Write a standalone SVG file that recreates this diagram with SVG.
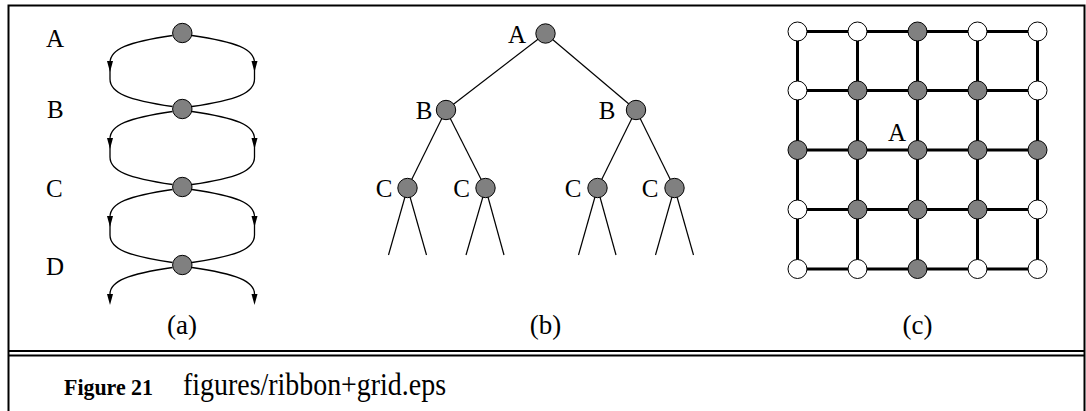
<svg xmlns="http://www.w3.org/2000/svg" width="1086" height="411" viewBox="0 0 1086 411">
<style>
.lbl{font-family:"Liberation Serif","Times New Roman",serif;font-size:25px;fill:#000}
.cap{font-family:"Liberation Serif","Times New Roman",serif;font-size:27px;fill:#000;text-anchor:middle}
.g{fill:#808080;stroke:#000;stroke-width:1}
.w{fill:#fff;stroke:#000;stroke-width:1}
.rib{fill:none;stroke:#000;stroke-width:1.3}
.tr{fill:none;stroke:#000;stroke-width:1.2}
.grid{fill:none;stroke:#000;stroke-width:3}
.frame{fill:none;stroke:#000;stroke-width:2}
</style>
<defs>
<path id="ah" d="M-3,-11 L3,-11 L0,0 Z" fill="#000"/>
</defs>
<g id="frame">
<rect class="frame" x="8.5" y="5.5" width="1076" height="420"/>
<line x1="8" y1="351" x2="1085" y2="351" stroke="#000" stroke-width="2"/>
<line x1="8" y1="355.5" x2="1085" y2="355.5" stroke="#000" stroke-width="2"/>
</g>
<g id="connectors">
<g id="ribbon-edges">
<path class="rib" d="M172.5,35.5 C128,42 110,49 110,63 L110,79 C110,93 128,100 172.5,106.5"/>
<path class="rib" d="M192,35.5 C236.5,42 254.5,49 254.5,63 L254.5,79 C254.5,93 236.5,100 192,106.5"/>
<path class="rib" d="M172.5,111.5 C128,118 110,125 110,139 L110,157 C110,171 128,178 172.5,184.5"/>
<path class="rib" d="M192,111.5 C236.5,118 254.5,125 254.5,139 L254.5,157 C254.5,171 236.5,178 192,184.5"/>
<path class="rib" d="M172.5,189.5 C128,196 110,203 110,217 L110,235 C110,249 128,256 172.5,262.5"/>
<path class="rib" d="M192,189.5 C236.5,196 254.5,203 254.5,217 L254.5,235 C254.5,249 236.5,256 192,262.5"/>
<path class="rib" d="M172.5,267.5 C128,274 110,281 110,294 L110,300"/>
<path class="rib" d="M192,267.5 C236.5,274 254.5,281 254.5,294 L254.5,300"/>
<use href="#ah" x="110" y="72"/>
<use href="#ah" x="254.5" y="72"/>
<use href="#ah" x="110" y="149"/>
<use href="#ah" x="254.5" y="149"/>
<use href="#ah" x="110" y="227"/>
<use href="#ah" x="254.5" y="227"/>
<use href="#ah" x="110" y="305"/>
<use href="#ah" x="254.5" y="305"/>
</g>
<g id="tree-edges">
<line class="tr" x1="545.5" y1="33.5" x2="446" y2="110"/>
<line class="tr" x1="545.5" y1="33.5" x2="636" y2="110"/>
<line class="tr" x1="446" y1="110" x2="407.5" y2="188"/>
<line class="tr" x1="446" y1="110" x2="485.5" y2="188"/>
<line class="tr" x1="636" y1="110" x2="597.5" y2="188"/>
<line class="tr" x1="636" y1="110" x2="674.5" y2="188"/>
<line class="tr" x1="407.5" y1="188" x2="388.5" y2="255"/>
<line class="tr" x1="407.5" y1="188" x2="426.5" y2="255"/>
<line class="tr" x1="485.5" y1="188" x2="466" y2="255"/>
<line class="tr" x1="485.5" y1="188" x2="504" y2="255"/>
<line class="tr" x1="597.5" y1="188" x2="578.5" y2="255"/>
<line class="tr" x1="597.5" y1="188" x2="616" y2="255"/>
<line class="tr" x1="674.5" y1="188" x2="655.5" y2="255"/>
<line class="tr" x1="674.5" y1="188" x2="693.5" y2="255"/>
</g>
<g id="grid-edges">
<path class="grid" d="M797.5,31.5 H1037.5 M797.5,90.5 H1037.5 M797.5,150 H1037.5 M797.5,209.5 H1037.5 M797.5,269 H1037.5 M797.5,31.5 V269 M857.5,31.5 V269 M917.5,31.5 V269 M977.5,31.5 V269 M1037.5,31.5 V269"/>
</g>
</g>
<g id="panel-a">
<g id="a-A"><circle class="g" cx="182.3" cy="33" r="9.7"/><text class="lbl" x="46" y="46.5">A</text></g>
<g id="a-B"><circle class="g" cx="182.3" cy="109" r="9.7"/><text class="lbl" x="47" y="118">B</text></g>
<g id="a-C"><circle class="g" cx="182.3" cy="187" r="9.7"/><text class="lbl" x="46" y="196.5">C</text></g>
<g id="a-D"><circle class="g" cx="182.3" cy="265" r="9.7"/><text class="lbl" x="46" y="275">D</text></g>
<text class="cap" x="182" y="334">(a)</text>
</g>
<g id="panel-b">
<g id="b-A"><circle class="g" cx="545.5" cy="33.5" r="9.7"/><text class="lbl" x="526" y="42.5" text-anchor="end">A</text></g>
<g id="b-B1"><circle class="g" cx="446" cy="110" r="9.7"/><text class="lbl" x="432.5" y="119" text-anchor="end">B</text></g>
<g id="b-B2"><circle class="g" cx="636" cy="110" r="9.7"/><text class="lbl" x="615.5" y="119" text-anchor="end">B</text></g>
<g id="b-C1"><circle class="g" cx="407.5" cy="188" r="9.7"/><text class="lbl" x="392.5" y="197" text-anchor="end">C</text></g>
<g id="b-C2"><circle class="g" cx="485.5" cy="188" r="9.7"/><text class="lbl" x="470" y="197" text-anchor="end">C</text></g>
<g id="b-C3"><circle class="g" cx="597.5" cy="188" r="9.7"/><text class="lbl" x="581.5" y="197" text-anchor="end">C</text></g>
<g id="b-C4"><circle class="g" cx="674.5" cy="188" r="9.7"/><text class="lbl" x="658.5" y="197" text-anchor="end">C</text></g>
<text class="cap" x="545.5" y="334">(b)</text>
</g>
<g id="panel-c">
<g id="c-r0">
<circle class="w" cx="797.5" cy="31.5" r="9.5"/><circle class="w" cx="857.5" cy="31.5" r="9.5"/><circle class="g" cx="917.5" cy="31.5" r="9.5"/><circle class="w" cx="977.5" cy="31.5" r="9.5"/><circle class="w" cx="1037.5" cy="31.5" r="9.5"/>
</g>
<g id="c-r1">
<circle class="w" cx="797.5" cy="90.5" r="9.5"/><circle class="g" cx="857.5" cy="90.5" r="9.5"/><circle class="g" cx="917.5" cy="90.5" r="9.5"/><circle class="g" cx="977.5" cy="90.5" r="9.5"/><circle class="w" cx="1037.5" cy="90.5" r="9.5"/>
</g>
<g id="c-r2">
<circle class="g" cx="797.5" cy="150" r="9.5"/><circle class="g" cx="857.5" cy="150" r="9.5"/><circle class="g" cx="917.5" cy="150" r="9.5"/><circle class="g" cx="977.5" cy="150" r="9.5"/><circle class="g" cx="1037.5" cy="150" r="9.5"/>
</g>
<g id="c-r3">
<circle class="w" cx="797.5" cy="209.5" r="9.5"/><circle class="g" cx="857.5" cy="209.5" r="9.5"/><circle class="g" cx="917.5" cy="209.5" r="9.5"/><circle class="g" cx="977.5" cy="209.5" r="9.5"/><circle class="w" cx="1037.5" cy="209.5" r="9.5"/>
</g>
<g id="c-r4">
<circle class="w" cx="797.5" cy="269" r="9.5"/><circle class="w" cx="857.5" cy="269" r="9.5"/><circle class="g" cx="917.5" cy="269" r="9.5"/><circle class="w" cx="977.5" cy="269" r="9.5"/><circle class="w" cx="1037.5" cy="269" r="9.5"/>
</g>
<text class="lbl" x="888" y="140.5">A</text>
<text class="cap" x="917.5" y="334">(c)</text>
</g>
<g id="caption">
<text x="64" y="395" font-family="'Liberation Serif','Times New Roman',serif" font-weight="bold" font-size="24" textLength="89" lengthAdjust="spacingAndGlyphs">Figure 21</text>
<text x="183" y="395" font-family="'Liberation Serif','Times New Roman',serif" font-size="31" textLength="263" lengthAdjust="spacingAndGlyphs">figures/ribbon+grid.eps</text>
</g>
</svg>
